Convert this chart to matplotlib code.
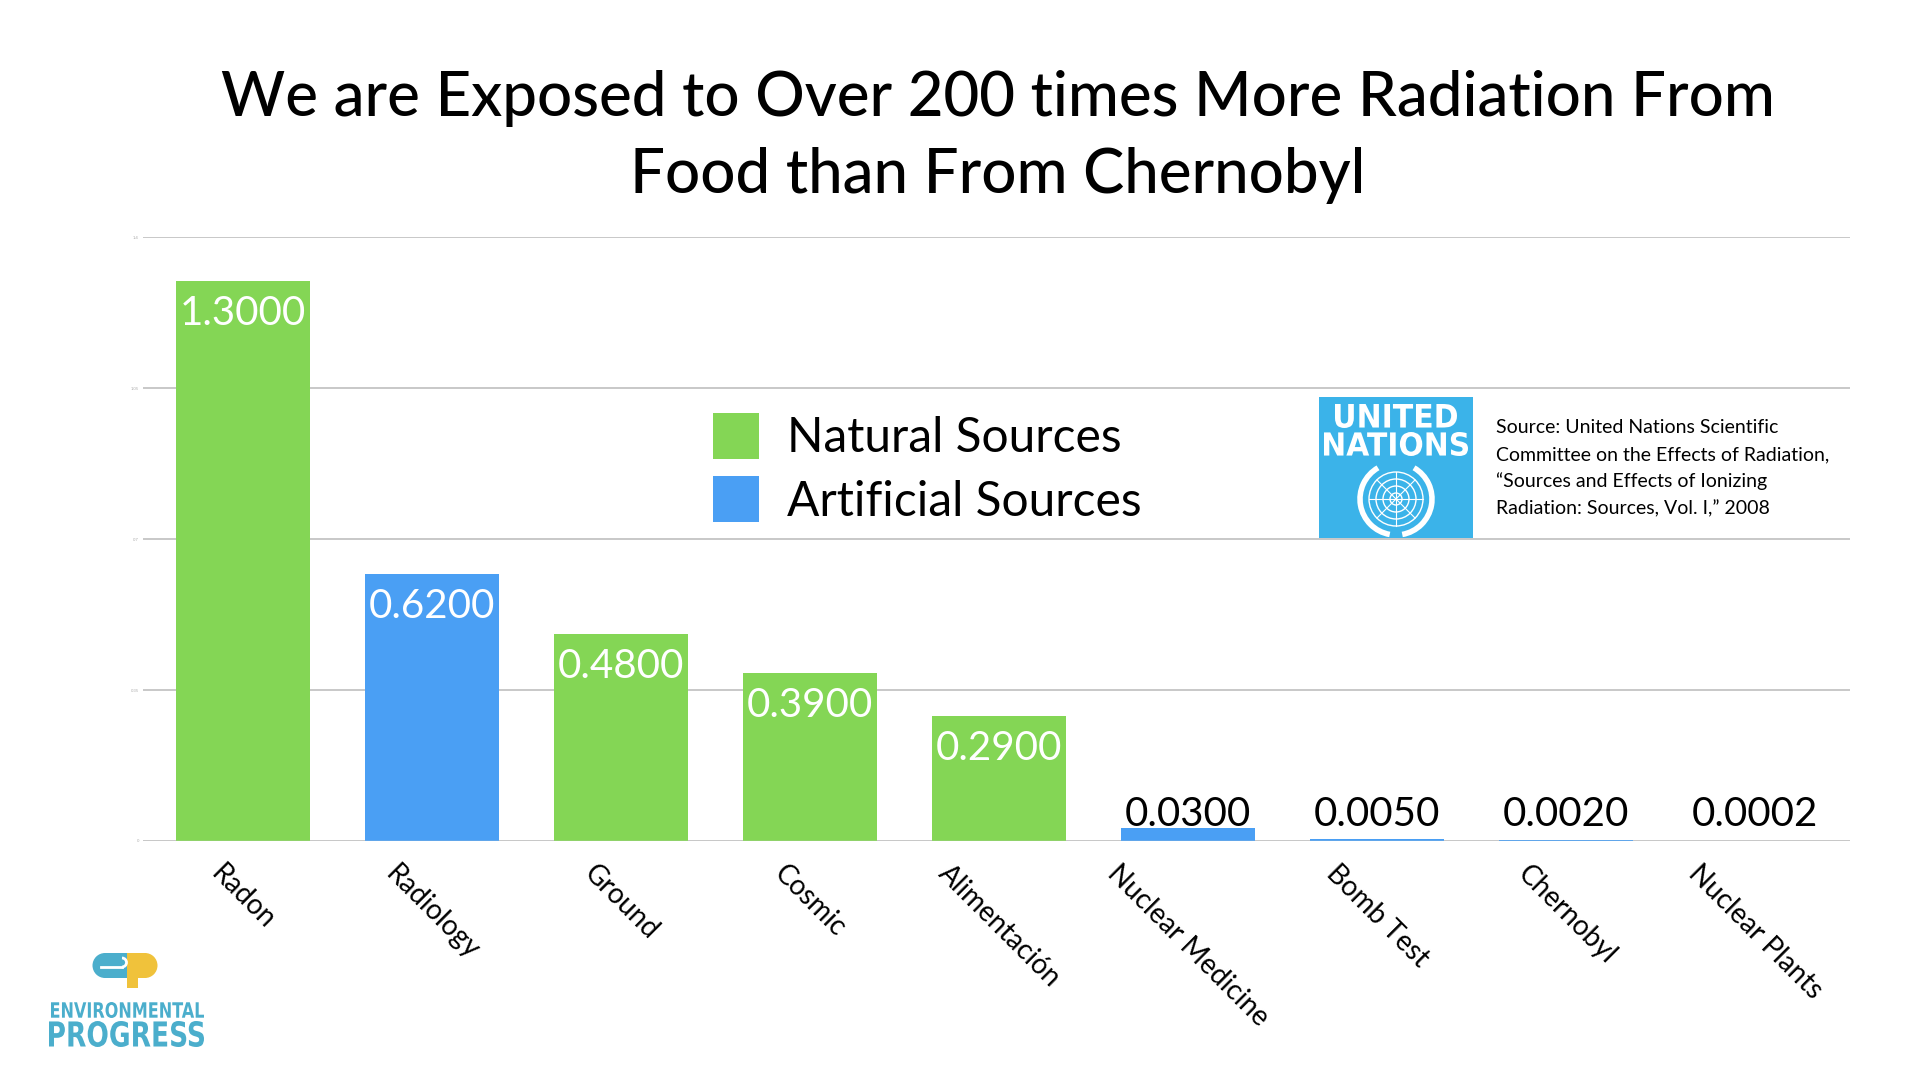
import matplotlib

matplotlib.use("Agg")
import matplotlib.pyplot as plt
from matplotlib.font_manager import FontProperties
from matplotlib.patches import Rectangle, Wedge, Circle, Arc, PathPatch
from matplotlib.textpath import TextPath
from matplotlib.transforms import Affine2D
import numpy as np

plt.rcParams["font.family"] = ["Lato", "DejaVu Sans"]

TITLE = "We are Exposed to Over 200 times More Radiation From\nFood than From Chernobyl"
categories = ["Radon", "Radiology", "Ground", "Cosmic", "Alimentación",
              "Nuclear Medicine", "Bomb Test", "Chernobyl", "Nuclear Plants"]
values = [1.3, 0.62, 0.48, 0.39, 0.29, 0.03, 0.005, 0.002, 0.0002]
source_kind = ["Natural", "Artificial", "Natural", "Natural", "Natural",
               "Artificial", "Artificial", "Artificial", "Artificial"]
y_ticks = [0, 0.35, 0.7, 1.05, 1.4]
legend_labels = ["Natural Sources", "Artificial Sources"]
source_lines = [
    "Source: United Nations Scientific",
    "Committee on the Effects of Radiation,",
    "\u201cSources and Effects of Ionizing",
    "Radiation: Sources, Vol. I,\u201d 2008",
]

GREEN = "#84D655"
BLUE = "#4A9FF4"
UN_BLUE = "#3BB3E9"
EP_TEAL = "#4BAECC"
EP_YELLOW = "#F0C23B"
kind_colors = {"Natural": GREEN, "Artificial": BLUE}


def fit_text(ax, s, x0, x1, ytop, ybot, color, prop):
    # text path stretched to fill a pixel box (overlay axes has y pointing down)
    tp = TextPath((0, 0), s, size=1, prop=prop)
    bb = tp.get_extents()
    sx = (x1 - x0) / bb.width
    sy = (ybot - ytop) / bb.height
    tr = Affine2D().translate(-bb.x0, -bb.y0).scale(sx, -sy).translate(x0, ybot)
    ax.add_patch(PathPatch(tr.transform_path(tp), facecolor=color, lw=0))


fig = plt.figure(figsize=(19.2, 10.8), dpi=100)

# overlay in pixel coordinates for title, legend, logos
ov = fig.add_axes([0, 0, 1, 1])
ov.set_xlim(0, 1920)
ov.set_ylim(1080, 0)
ov.axis("off")
ov.patch.set_alpha(0)

ax = fig.add_axes([0.0745, 0.2213, 0.889, 0.5588])
ax.patch.set_alpha(0)
x = np.arange(len(categories))
colors = [kind_colors[k] for k in source_kind]
ax.bar(x, values, width=0.71, color=colors, zorder=3)
ax.set_xlim(-0.53, len(categories) - 0.5)
ax.set_ylim(0, 1.4)
ax.set_yticks(y_ticks)
ax.set_yticklabels([f"{t:g}" for t in y_ticks], fontsize=3, color="#aaaaaa")
ax.tick_params(axis="y", length=0, pad=3)
ax.yaxis.grid(True, color="#c4c4c4", lw=1.3, zorder=0)
ax.axhline(0, color="#c4c4c4", lw=1.0, zorder=5)
for sp in ax.spines.values():
    sp.set_visible(False)
ax.set_xticks(x)
ax.set_xticklabels(categories, rotation=-45, ha="center", va="top", fontsize=20)
ax.tick_params(axis="x", length=0, pad=14)

for xi, v in zip(x, values):
    label = f"{v:.4f}"
    if v > 0.1:
        ax.annotate(label, (xi, v), xytext=(0, -14), textcoords="offset pixels",
                    ha="center", va="top", fontsize=29, color="white", zorder=4)
    else:
        ax.annotate(label, (xi, max(v, 0.03)), xytext=(0, 2), textcoords="offset pixels",
                    ha="center", va="baseline", fontsize=29, color="black", zorder=4)

# title
title_lines = TITLE.split("\n")
ov.text(998, 116, title_lines[0], ha="center", va="baseline", fontsize=44.5, weight="medium")
ov.text(998, 193, title_lines[1], ha="center", va="baseline", fontsize=44.5, weight="medium")

# legend
for (lab, col, ytop, base) in [(legend_labels[0], GREEN, 413, 452),
                                (legend_labels[1], BLUE, 476, 516)]:
    ov.add_patch(Rectangle((713, ytop), 46, 46, facecolor=col, lw=0))
    ov.text(787, base, lab, ha="left", va="baseline", fontsize=34.5)

# UN logo
ov.add_patch(Rectangle((1319, 397), 154, 141, facecolor=UN_BLUE, lw=0))
bold = FontProperties(family="DejaVu Sans", weight="bold")
fit_text(ov, "UNITED", 1335, 1457, 404, 428, "white", bold)
fit_text(ov, "NATIONS", 1324, 1468, 432, 456, "white", bold)
cx, cy = 1396, 499
for r in [27, 20, 13, 6]:
    ov.add_patch(Circle((cx, cy), r, facecolor="none", edgecolor="white", lw=1.0))
for ang in [0, 45, 90, 135]:
    t = np.deg2rad(ang)
    ov.plot([cx - 27 * np.cos(t), cx + 27 * np.cos(t)],
            [cy - 27 * np.sin(t), cy + 27 * np.sin(t)], color="white", lw=0.8)
ov.add_patch(Arc((cx, cy), 72, 72, theta1=100, theta2=240, color="white", lw=4))
ov.add_patch(Arc((cx, cy), 72, 72, theta1=-60, theta2=80, color="white", lw=4))

# source note
for i, line in enumerate(source_lines):
    ov.text(1496, 433 + i * 27, line, ha="left", va="baseline", fontsize=14)

# Environmental Progress logo
ov.add_patch(Wedge((105, 965.5), 12.5, 90, 270, facecolor=EP_TEAL, lw=0))
ov.add_patch(Rectangle((104.5, 953), 22.5, 25, facecolor=EP_TEAL, lw=0))
ov.add_patch(Wedge((145, 965.5), 12.5, -90, 90, facecolor=EP_YELLOW, lw=0))
ov.add_patch(Rectangle((127, 953), 18.5, 25, facecolor=EP_YELLOW, lw=0))
ov.add_patch(Rectangle((127, 965), 11, 23, facecolor=EP_YELLOW, lw=0))
ov.plot([101, 122], [967, 967], color="white", lw=2)
ov.add_patch(Arc((122, 962.5), 9, 9, theta1=-90, theta2=90, color="white", lw=2))
epfont = FontProperties(family="DejaVu Sans", weight="bold", stretch="condensed")
fit_text(ov, "ENVIRONMENTAL", 51, 204, 1002, 1018, EP_TEAL, epfont)
fit_text(ov, "PROGRESS", 49, 204, 1021, 1047, EP_TEAL, epfont)

fig.savefig("out.png", dpi=100)
